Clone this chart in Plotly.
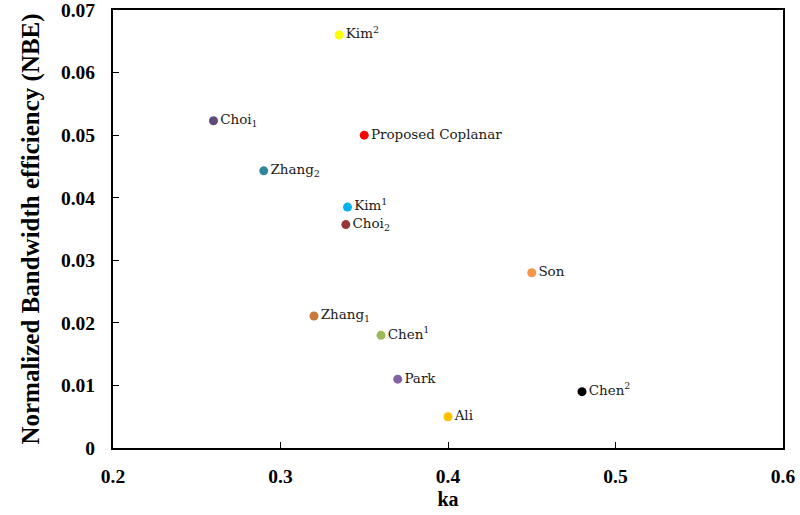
import plotly.graph_objects as go

names = ["Kim<sup>2</sup>", "Choi<sub>1</sub>", "Proposed Coplanar", "Zhang<sub>2</sub>",
         "Kim<sup>1</sup>", "Choi<sub>2</sub>", "Son", "Zhang<sub>1</sub>",
         "Chen<sup>1</sup>", "Park", "Ali", "Chen<sup>2</sup>"]
ka = [0.335, 0.26, 0.35, 0.29, 0.34, 0.339, 0.45, 0.32, 0.36, 0.37, 0.40, 0.48]
nbe = [0.066, 0.0523, 0.050, 0.0443, 0.0385, 0.0357, 0.028, 0.0211, 0.018, 0.011, 0.005, 0.009]
colors = ["#FFFF00", "#604A7B", "#FF0000", "#31859C", "#00B0F0", "#953735",
          "#F79646", "#C77A3A", "#9BBB59", "#8064A2", "#FFC000", "#000000"]

x_ticks = [0.2, 0.3, 0.4, 0.5, 0.6]
y_ticks = [0, 0.01, 0.02, 0.03, 0.04, 0.05, 0.06, 0.07]

fig = go.Figure()
fig.add_trace(go.Scatter(
    x=ka, y=nbe, mode="markers+text",
    text=names, textposition="middle right",
    textfont=dict(family="DejaVu Serif", size=13.5, color="#1a1a1a"),
    marker=dict(size=9, color=colors, line=dict(width=0)),
    cliponaxis=False, showlegend=False,
))

tick_font = dict(family="Liberation Serif", size=19.5, color="black", weight="bold")
fig.update_layout(
    width=800, height=515,
    margin=dict(l=113, r=17, t=10, b=67),
    plot_bgcolor="white", paper_bgcolor="white",
    xaxis=dict(
        range=[0.2, 0.6], tickvals=x_ticks, ticktext=[str(v) for v in x_ticks],
        showgrid=False, zeroline=False, automargin=False,
        showline=True, linecolor="black", linewidth=2, mirror=True,
        ticks="inside", ticklen=6, tickwidth=1.2, tickcolor="black",
        tickfont=tick_font, ticklabelstandoff=10, ticklabeloverflow="allow",
        title=dict(text="<b>ka</b>", font=dict(family="Liberation Serif", size=20, color="black"),
                   standoff=6),
    ),
    yaxis=dict(
        range=[0, 0.07], tickvals=y_ticks, ticktext=[str(v) for v in y_ticks],
        showgrid=False, zeroline=False, automargin=False,
        showline=True, linecolor="black", linewidth=2, mirror=True,
        ticks="inside", ticklen=6, tickwidth=1.2, tickcolor="black",
        tickfont=tick_font, ticklabelstandoff=12, ticklabeloverflow="allow",
        title=dict(text="<b>Normalized Bandwidth efficiency (NBE)</b>",
                   font=dict(family="Liberation Serif", size=25, color="black"), standoff=14),
    ),
)

fig.write_html("out.html", config={"displayModeBar": False},
               post_script="document.body.style.margin='0';document.body.style.overflow='hidden';")
